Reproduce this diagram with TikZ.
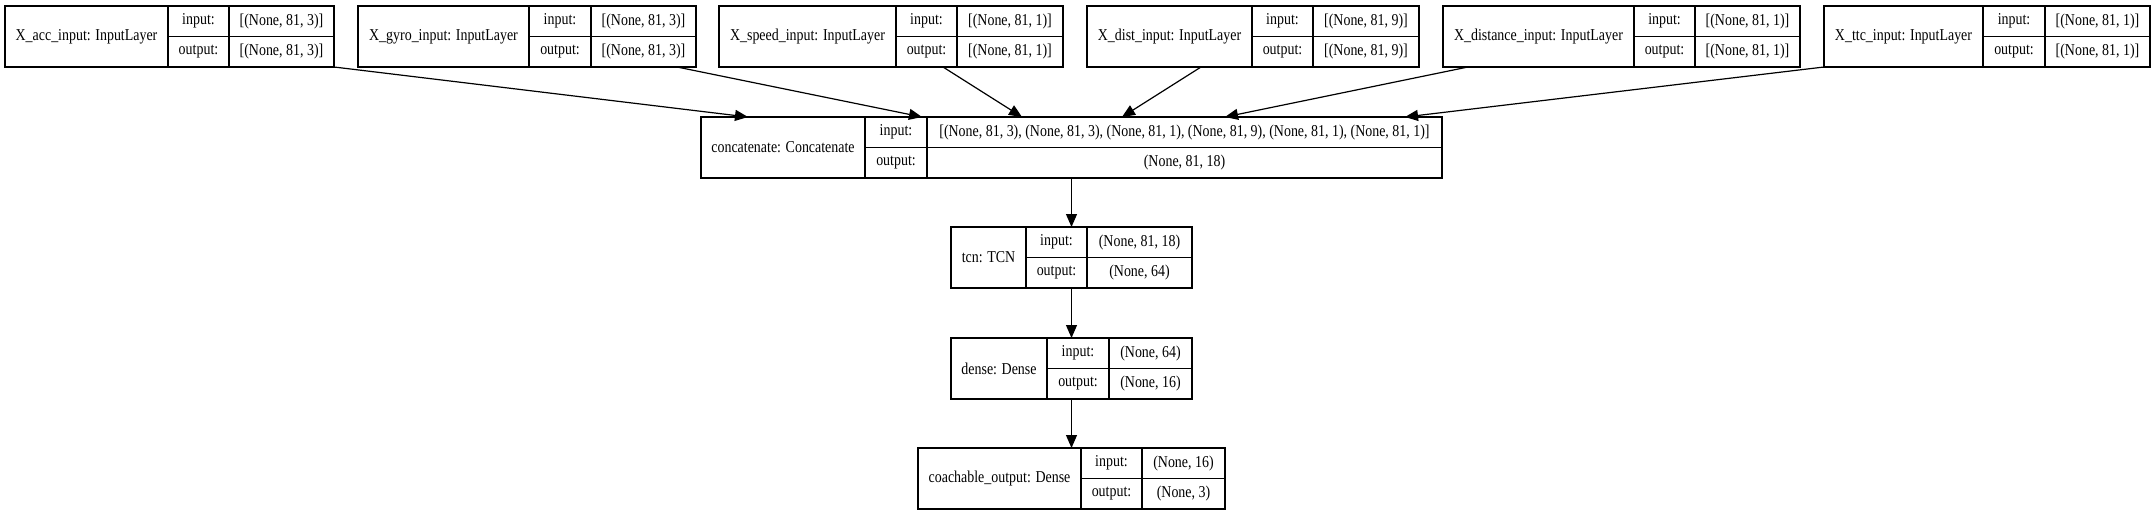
\documentclass[tikz,border=0pt]{standalone}
\usepackage{fontspec}
\setmainfont{Liberation Serif}[FakeStretch=0.84]
\usetikzlibrary{arrows.meta,fit}

% one keras layer: name, left, top, widths of the three columns, label, input, output
\newcommand{\kerasbox}[9]{%
  \node[cell,minimum width=#4pt,minimum height=61pt,anchor=north west] (#1-name) at (#2,-#3) {#7};
  \node[cell,minimum width=#5pt,anchor=north west] (#1-ik) at (#1-name.north east) {input:};
  \node[cell,minimum width=#5pt,anchor=north west] (#1-ok) at (#1-ik.south west) {output:};
  \node[cell,minimum width=#6pt,anchor=north west] (#1-iv) at (#1-ik.north east) {#8};
  \node[cell,minimum width=#6pt,anchor=north west] (#1-ov) at (#1-iv.south west) {#9};
  \node[fit=(#1-name)(#1-ov),inner sep=0pt,outer sep=0pt] (#1) {};
}

\begin{document}
\begin{tikzpicture}[x=1pt,y=1pt,>={Triangle[length=13pt,width=11pt]},
    cell/.style={draw,line width=1.2pt,outer sep=0pt,inner sep=0pt,minimum height=30.5pt},
    font=\fontsize{16.6}{18}\selectfont]
  \useasboundingbox (0,0) rectangle (2155,-516);
  % input layers
  \kerasbox{acc}{5}{6}{163}{61}{105}{X\_acc\_input: InputLayer}{[(None, 81, 3)]}{[(None, 81, 3)]}
  \kerasbox{gyro}{358}{6}{171}{62}{105}{X\_gyro\_input: InputLayer}{[(None, 81, 3)]}{[(None, 81, 3)]}
  \kerasbox{speed}{719}{6}{177}{61}{106}{X\_speed\_input: InputLayer}{[(None, 81, 1)]}{[(None, 81, 1)]}
  \kerasbox{dist}{1087}{6}{165}{61}{106}{X\_dist\_input: InputLayer}{[(None, 81, 9)]}{[(None, 81, 9)]}
  \kerasbox{distance}{1443}{6}{191}{61}{105}{X\_distance\_input: InputLayer}{[(None, 81, 1)]}{[(None, 81, 1)]}
  \kerasbox{ttc}{1824}{6}{159}{62}{105}{X\_ttc\_input: InputLayer}{[(None, 81, 1)]}{[(None, 81, 1)]}
  % model body
  \kerasbox{concat}{701}{117}{164}{62}{515}{concatenate: Concatenate}{[(None, 81, 3), (None, 81, 3), (None, 81, 1), (None, 81, 9), (None, 81, 1), (None, 81, 1)]}{(None, 81, 18)}
  \kerasbox{tcn}{951}{227}{75}{61}{105}{tcn: TCN}{(None, 81, 18)}{(None, 64)}
  \kerasbox{dense}{951}{338}{96}{62}{83}{dense: Dense}{(None, 64)}{(None, 16)}
  \kerasbox{coach}{918}{448}{163}{61}{83}{coachable\_output: Dense}{(None, 16)}{(None, 3)}
  % edges
  \begin{scope}[->,line width=1.2pt]
    \draw (acc.south east) -- ([xshift=47]concat.north west);
    \draw ([xshift=-19]gyro.south east) -- ([xshift=221]concat.north west);
    \draw ([xshift=224]speed.south west) -- ([xshift=321]concat.north west);
    \draw ([xshift=114]dist.south west) -- ([xshift=421]concat.north west);
    \draw ([xshift=25]distance.south west) -- ([xshift=524]concat.north west);
    \draw (ttc.south west) -- ([xshift=704]concat.north west);
    \foreach \a/\b in {concat/tcn,tcn/dense,dense/coach}
      \draw (\a.south -| \b.north) -- (\b.north);
  \end{scope}
\end{tikzpicture}
\end{document}
